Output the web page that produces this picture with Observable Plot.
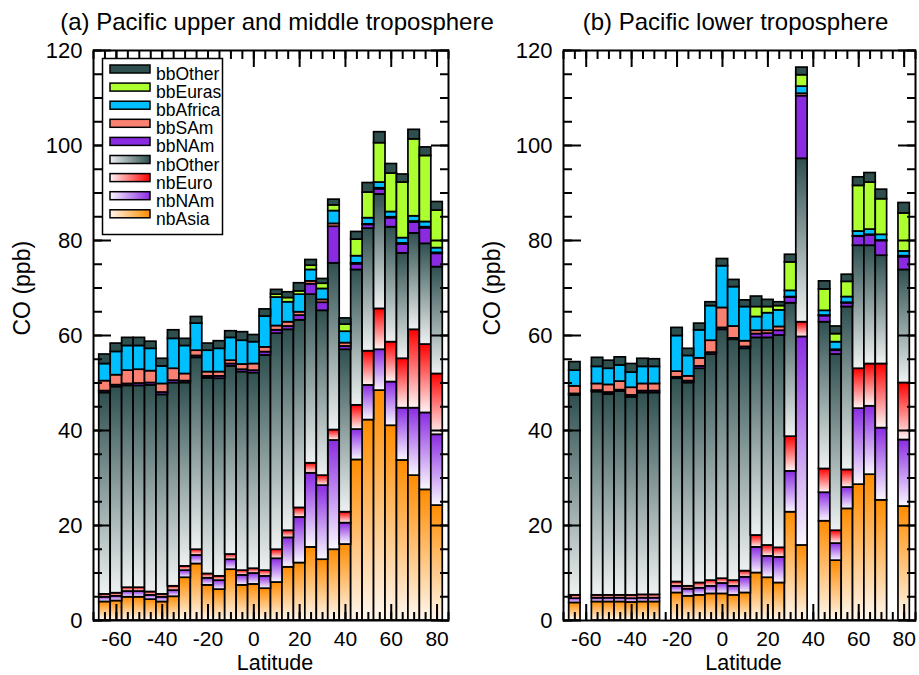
<!DOCTYPE html>
<html><head><meta charset="utf-8">
<script src="https://cdn.jsdelivr.net/npm/d3@7"></script>
<script src="https://cdn.jsdelivr.net/npm/@observablehq/plot@0.6"></script>
<style>
body{margin:0;background:#fff;}
#wrap{position:relative;width:919px;height:675px;overflow:hidden;background:#fff;}
#wrap svg{position:absolute;top:0;}
</style></head><body>
<svg width="0" height="0" style="position:absolute;left:0;top:0">
<defs>
<linearGradient id="g-nbAsia" x1="0" y1="1" x2="0" y2="0"><stop offset="0" stop-color="#fff7ee"/><stop offset="1" stop-color="#ff8c00"/></linearGradient>
<linearGradient id="g-nbNAm" x1="0" y1="1" x2="0" y2="0"><stop offset="0" stop-color="#faf6ff"/><stop offset="1" stop-color="#8a2be2"/></linearGradient>
<linearGradient id="g-nbEuro" x1="0" y1="1" x2="0" y2="0"><stop offset="0" stop-color="#fff4f4"/><stop offset="1" stop-color="#ff0000"/></linearGradient>
<linearGradient id="g-nbOther" x1="0" y1="1" x2="0" y2="0"><stop offset="0" stop-color="#eef1f1"/><stop offset="1" stop-color="#2f4f4f"/></linearGradient>
<linearGradient id="h-nbAsia" x1="0" y1="0" x2="1" y2="0"><stop offset="0" stop-color="#fff7ee"/><stop offset="1" stop-color="#ff8c00"/></linearGradient>
<linearGradient id="h-nbNAm" x1="0" y1="0" x2="1" y2="0"><stop offset="0" stop-color="#faf6ff"/><stop offset="1" stop-color="#8a2be2"/></linearGradient>
<linearGradient id="h-nbEuro" x1="0" y1="0" x2="1" y2="0"><stop offset="0" stop-color="#fff4f4"/><stop offset="1" stop-color="#ff0000"/></linearGradient>
<linearGradient id="h-nbOther" x1="0" y1="0" x2="1" y2="0"><stop offset="0" stop-color="#eef1f1"/><stop offset="1" stop-color="#2f4f4f"/></linearGradient>
</defs></svg>
<div id="wrap"></div>
<script>
// ---------- data: panel (a) Pacific upper and middle troposphere ----------
const latA = [-65,-60,-55,-50,-45,-40,-35,-30,-25,-20,-15,-10,-5,0,5,10,15,20,25,30,35,40,45,50,55,60,65,70,75,80];
const aNbAsia   = [3.9,4.1,4.9,4.9,4.4,3.9,5.0,9.0,11.9,7.4,6.5,10.7,7.4,7.6,6.7,8.0,11.2,12.1,15.4,12.8,14.9,16.0,33.8,42.2,48.4,41.0,33.7,30.5,27.5,24.2];
const aNbNAm    = [1.0,1.0,1.2,1.2,0.9,1.0,1.3,1.5,1.8,1.5,1.9,2.1,2.1,2.3,2.6,5.0,6.2,9.6,15.6,15.6,23.0,4.5,6.4,7.3,8.6,9.2,11.0,14.2,16.2,14.9];
const aNbEuro   = [0.6,0.65,0.8,0.8,0.7,0.6,0.9,0.9,1.2,0.9,0.9,1.1,1.0,1.0,1.2,1.9,1.5,2.0,2.1,2.1,2.2,2.3,5.1,7.2,8.6,8.4,10.4,16.5,14.4,12.8];
const aNbOther  = [42.4,43.4,42.5,42.5,43.5,42.0,42.8,38.6,40.4,41.2,41.6,39.6,41.8,41.2,45.3,45.5,42.3,39.5,35.5,34.7,35.1,34.2,28.5,25.8,24.1,24.2,22.2,20.3,21.2,22.5];
const aBbNAm    = [0.4,0.4,0.4,0.5,0.5,0.5,0.5,0.4,0.4,0.4,0.5,0.5,0.5,0.5,0.7,0.7,0.7,1.0,2.2,1.7,7.7,0.7,1.2,0.8,1.1,1.9,1.9,2.3,3.3,2.8];
const aBbSAm    = [2.1,2.1,2.8,2.9,2.5,1.8,2.5,1.5,1.1,0.9,0.9,0.7,1.1,1.4,1.0,0.9,0.9,0.7,0.6,0.6,0.6,0.7,0.2,0.1,0.2,0.2,0.2,0.2,0.2,0.2];
const aBbAfrica = [3.6,4.9,5.2,5.0,4.7,3.7,6.3,5.9,5.7,4.5,4.9,4.8,5.0,4.6,6.5,6.0,4.2,3.7,2.4,2.3,2.7,2.4,1.5,1.3,1.2,1.1,1.1,1.1,1.1,1.0];
const aBbEuras  = [0,0,0,0,0,0,0,0,0,0,0,0,0,0,0,0.6,0.9,0.7,0.9,1.1,1.2,1.5,3.5,5.4,8.3,8.1,11.7,16.2,13.9,7.9];
const aBbOther  = [2.0,1.75,1.7,1.7,1.5,1.6,1.8,1.5,1.4,1.5,1.6,1.4,1.8,1.5,1.5,1.0,1.2,1.7,1.2,1.0,1.2,1.3,1.6,2.0,2.3,2.0,1.7,2.0,1.8,1.8];

// ---------- data: panel (b) Pacific lower troposphere ----------
const latB = [-65,-55,-50,-45,-40,-35,-30,-20,-15,-10,-5,0,5,10,15,20,25,30,35,45,50,55,60,65,70,80];
const bNbAsia   = [3.7,3.9,3.9,3.9,3.8,3.9,3.9,5.8,5.1,5.3,5.6,5.6,5.3,5.8,10.0,9.0,7.9,22.8,15.8,20.9,12.6,23.5,28.6,30.7,25.3,24.0];
const bNbNAm    = [0.9,0.8,0.8,0.8,0.8,0.8,0.8,1.4,1.5,1.5,1.6,2.2,1.9,3.3,5.4,4.5,5.4,8.6,43.9,6.0,3.6,4.5,16.0,14.4,15.2,14.0];
const bNbEuro   = [0.7,0.6,0.6,0.6,0.7,0.7,0.7,0.9,0.6,1.1,1.2,1.0,1.2,1.3,2.5,2.3,2.0,7.3,3.1,5.0,2.7,3.7,8.4,8.9,13.5,12.0];
const bNbOther  = [42.1,42.8,42.3,42.9,41.7,42.5,42.5,42.8,42.8,45.1,47.6,52.4,50.7,46.8,41.6,43.7,44.7,28.1,34.4,30.9,37.1,34.3,25.9,24.9,22.8,23.8];
const bBbNAm    = [0.3,0.3,0.4,0.3,0.4,0.4,0.4,0.3,0.4,0.5,0.4,0.4,0.3,0.4,0.8,0.9,1.0,1.2,13.2,1.3,0.8,0.8,1.9,2.2,3.1,2.7];
const bBbSAm    = [1.6,1.4,1.6,1.8,1.6,1.5,1.5,1.2,1.0,1.7,2.5,4.2,2.5,1.2,0.7,0.6,0.8,0.1,0.5,0.1,0.2,0.1,0.1,0.1,0.1,0.2];
const bBbAfrica = [3.3,3.6,3.4,3.4,3.2,3.6,3.6,7.5,4.3,5.9,7.3,8.8,8.3,7.2,2.9,3.7,3.5,1.3,1.5,1.0,1.6,1.2,1.0,1.1,1.2,1.0];
const bBbEuras  = [0,0,0,0,0,0,0,0,0,0,0,0,0,0,2.1,1.3,0.9,6.0,2.4,4.5,1.7,3.2,9.6,9.9,7.5,8.0];
const bBbOther  = [1.8,1.9,1.7,1.7,1.8,1.7,1.6,1.7,1.5,1.4,0.8,1.5,1.5,1.4,2.2,1.5,0.8,1.6,1.6,1.7,1.6,1.5,1.8,2.0,2.0,2.2];

// ---------- series & ticks ----------
const seriesNames = ["nbAsia","nbNAm","nbEuro","nbOther","bbNAm","bbSAm","bbAfrica","bbEuras","bbOther"];
const legendOrder = ["bbOther","bbEuras","bbAfrica","bbSAm","bbNAm","nbOther","nbEuro","nbNAm","nbAsia"];
const barFill = {nbAsia:"url(#g-nbAsia)", nbNAm:"url(#g-nbNAm)", nbEuro:"url(#g-nbEuro)", nbOther:"url(#g-nbOther)",
  bbNAm:"#8a2be2", bbSAm:"#fa8072", bbAfrica:"#00bfff", bbEuras:"#adff2f", bbOther:"#2f4f4f"};
const legFill = {nbAsia:"url(#h-nbAsia)", nbNAm:"url(#h-nbNAm)", nbEuro:"url(#h-nbEuro)", nbOther:"url(#h-nbOther)",
  bbNAm:"#8a2be2", bbSAm:"#fa8072", bbAfrica:"#00bfff", bbEuras:"#adff2f", bbOther:"#2f4f4f"};
const yMajor = [0,20,40,60,80,100,120];
const yMinor = d3.range(0,121,5);
const xMajor = [-60,-40,-20,0,20,40,60,80];
const xMinor = d3.range(-70,86,5);
const xDomain = [-70,85];
const yDomain = [0,120];

const panelA = {lat: latA, title: "(a) Pacific upper and middle troposphere", titleDx: 6,
  s: {nbAsia:aNbAsia, nbNAm:aNbNAm, nbEuro:aNbEuro, nbOther:aNbOther, bbNAm:aBbNAm, bbSAm:aBbSAm, bbAfrica:aBbAfrica, bbEuras:aBbEuras, bbOther:aBbOther}};
const panelB = {lat: latB, title: "(b) Pacific lower troposphere", titleDx: -4,
  s: {nbAsia:bNbAsia, nbNAm:bNbNAm, nbEuro:bNbEuro, nbOther:bNbOther, bbNAm:bBbNAm, bbSAm:bBbSAm, bbAfrica:bBbAfrica, bbEuras:bBbEuras, bbOther:bBbOther}};

function stackRows(p) {
  const rows = [];
  p.lat.forEach((lat, i) => {
    let cum = 0;
    for (const s of seriesNames) {
      const v = p.s[s][i];
      if (v > 0) rows.push({lat, series: s, y1: cum, y2: cum + v});
      cum += v;
    }
  });
  return rows;
}

const fmt = d => `${d}`;
function makePanel(p, width, ml, mr) {
  const rows = stackRows(p);
  const bars = seriesNames.map(s => Plot.rect(rows.filter(r => r.series === s), {
    x1: d => d.lat - 2.5, x2: d => d.lat + 2.5, y1: "y1", y2: "y2",
    fill: barFill[s], stroke: "black", strokeWidth: 1.7
  }));
  return Plot.plot({
    width, height: 675, marginLeft: ml, marginRight: mr, marginTop: 50, marginBottom: 55,
    x: {domain: xDomain, label: null}, y: {domain: yDomain, label: null},
    style: {fontFamily: "'Liberation Sans', Arial, sans-serif", fontSize: "22px", color: "black", background: "transparent", overflow: "visible"},
    marks: [
      ...bars,
      Plot.axisY({anchor: "left", ticks: yMinor, tickSize: 9, dx: 9, fill: "none", strokeWidth: 2, label: null}),
      Plot.axisY({anchor: "left", ticks: yMajor, tickSize: 18, dx: 18, tickPadding: 11, tickFormat: fmt, strokeWidth: 2, fontSize: 22, label: null}),
      Plot.axisY({anchor: "right", ticks: yMinor, tickSize: 9, dx: -9, fill: "none", strokeWidth: 2, label: null}),
      Plot.axisY({anchor: "right", ticks: yMajor, tickSize: 18, dx: -18, fill: "none", strokeWidth: 2, label: null}),
      Plot.axisX({anchor: "top", ticks: xMinor, tickSize: 8, dy: 8, fill: "none", strokeWidth: 2, label: null}),
      Plot.axisX({anchor: "top", ticks: xMajor, tickSize: 16, dy: 16, fill: "none", strokeWidth: 2, label: null}),
      Plot.axisX({anchor: "bottom", ticks: xMinor, tickSize: 8, dy: -8, fill: "none", strokeWidth: 2, label: null}),
      Plot.axisX({anchor: "bottom", ticks: xMajor, tickSize: 16, dy: -16, tickPadding: 11, tickFormat: fmt, strokeWidth: 2, fontSize: 21, label: null}),
      Plot.frame({stroke: "black", strokeWidth: 2}),
      Plot.text([p.title], {text: d => d, frameAnchor: "top", lineAnchor: "middle", dy: -28.6, dx: p.titleDx, fontSize: 24}),
      Plot.text(["Latitude"], {text: d => d, frameAnchor: "bottom", lineAnchor: "middle", dy: 43, dx: 4, fontSize: 21.5}),
      Plot.text(["CO (ppb)"], {text: d => d, frameAnchor: "left", lineAnchor: "middle", dx: -71, rotate: -90, fontSize: 23})
    ]
  });
}

const wrap = document.getElementById("wrap");
const svgA = makePanel(panelA, 460, 93, 12);
svgA.style.left = "0px";
wrap.appendChild(svgA);
const svgB = makePanel(panelB, 459, 103, 4);
svgB.style.left = "460px";
wrap.appendChild(svgB);

// legend (inside panel a)
const leg = d3.select(wrap).append("svg").attr("width", 919).attr("height", 675)
  .style("left", "0px").style("font-family", "'Liberation Sans', Arial, sans-serif");
leg.append("rect").attr("x", 102.5).attr("y", 58.5).attr("width", 120).attr("height", 176)
  .attr("fill", "white").attr("stroke", "black").attr("stroke-width", 1.5);
legendOrder.forEach((s, i) => {
  const yc = 74 + 18.1 * i;
  leg.append("rect").attr("x", 110).attr("y", yc - 9).attr("width", 40).attr("height", 8)
    .attr("fill", legFill[s]).attr("stroke", "black").attr("stroke-width", 1.5);
  leg.append("text").attr("x", 156).attr("y", yc).attr("dominant-baseline", "central")
    .attr("font-size", 17.5).attr("fill", "black").text(s);
});
</script>
</body></html>
